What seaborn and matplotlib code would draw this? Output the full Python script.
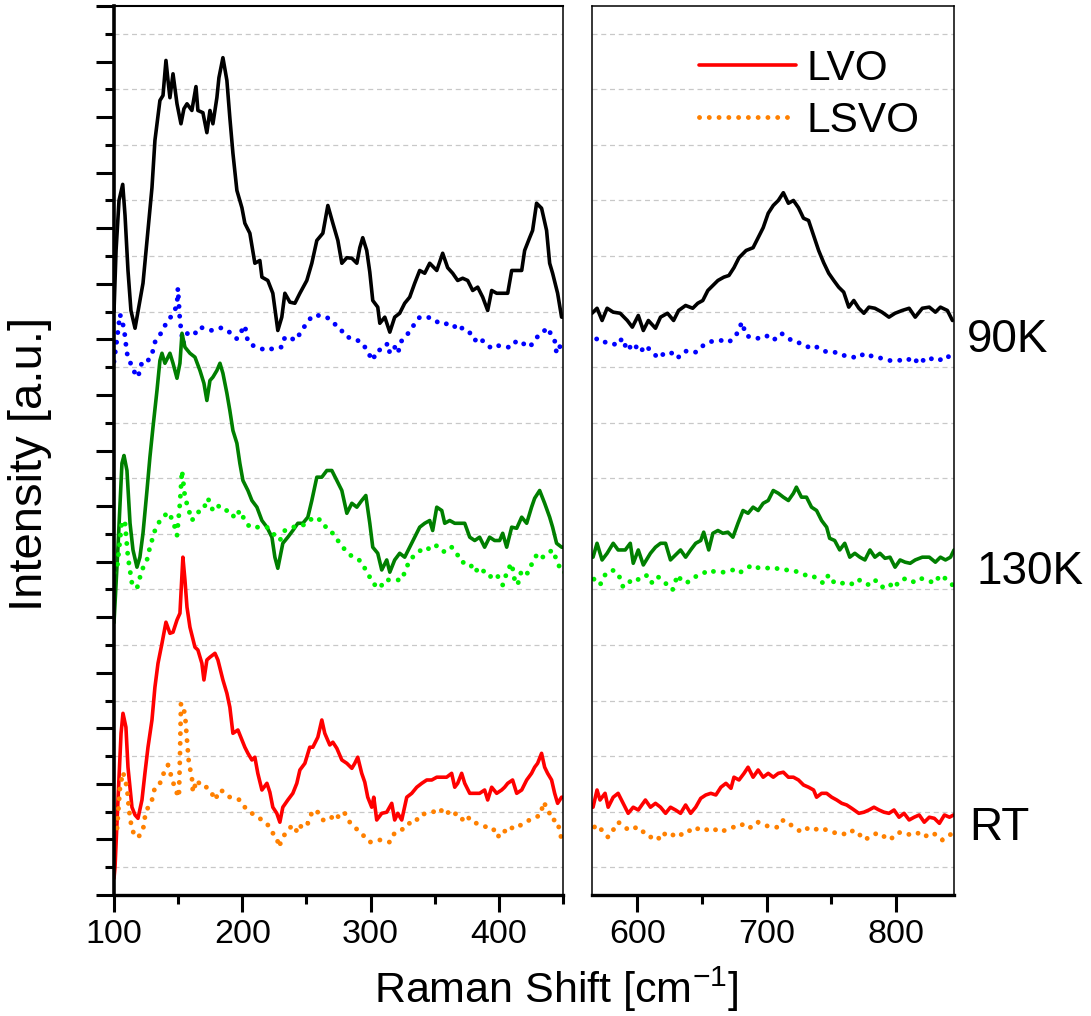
import matplotlib
matplotlib.use("Agg")
import matplotlib.pyplot as plt
from matplotlib.lines import Line2D
from matplotlib.ticker import FixedLocator
import seaborn as sns

# ---------------- DATA (Raman shift in cm-1, intensity in a.u. incl. offset) ----------------
# 90K, LVO (solid black)
lvo_90k_left_x = [100, 101.6, 103.9, 106.8, 108.6, 110.9, 113.2, 116.4, 119.5, 122.6,
                  126.5, 129.6, 131.9, 135.8, 138.2, 140.5, 142.1, 143.6, 146.0, 149.1,
                  152.2, 154.5, 156.9, 160.7, 163.9, 165.4, 169.3, 172.4, 174.8, 177.1,
                  180.2, 181.8, 184.9, 188.0, 190.3, 192.7, 195.8, 199.7, 202.0, 205.9,
                  209.8, 213.7, 215.3, 219.9, 223.8, 227.7, 230.8, 233.2, 237.1, 241.0,
                  244.9, 250.3, 254.2, 258.1, 262.8, 266.7, 270.6, 274.5, 277.6, 281.5,
                  285.4, 289.3, 291.6, 293.9, 297.0, 299.4, 301.7, 305.6, 307.2, 311.1,
                  315.0, 318.8, 322.7, 326.6, 330.5, 334.4, 338.3, 342.2, 346.1, 351.6,
                  356.2, 360.1, 364.0, 367.9, 371.8, 375.7, 379.6, 383.5, 387.4, 391.3,
                  394.4, 398.3, 403.0, 406.9, 410.0, 413.9, 417.8, 420.1, 424.0, 426.3,
                  429.4, 433.3, 437.2, 439.6, 441.9, 445.8, 448.9]
lvo_90k_left_y = [10.5, 11.6, 12.5, 12.79, 12.23, 11.24, 10.52, 10.20, 10.61, 11.01,
                  11.96, 12.73, 13.58, 14.30, 14.39, 15.02, 14.66, 14.35, 14.78, 14.24,
                  13.88, 14.15, 14.24, 14.12, 14.55, 14.12, 14.08, 13.72, 14.12, 13.88,
                  14.35, 14.71, 15.07, 14.66, 13.99, 13.35, 12.68, 12.37, 12.09, 11.91,
                  11.37, 11.42, 11.12, 11.06, 10.83, 10.16, 10.40, 10.83, 10.67, 10.65,
                  10.83, 11.06, 11.37, 11.78, 11.91, 12.41, 12.09, 11.78, 11.37, 11.47,
                  11.46, 11.37, 11.65, 11.83, 11.60, 11.21, 10.70, 10.58, 10.29, 10.40,
                  10.13, 10.40, 10.47, 10.65, 10.76, 11.01, 11.24, 11.19, 11.37, 11.24,
                  11.55, 11.29, 11.19, 11.06, 11.10, 11.06, 10.88, 10.94, 10.76, 10.52,
                  10.88, 10.83, 10.83, 10.83, 11.24, 11.24, 11.24, 11.60, 11.83, 11.96,
                  12.45, 12.36, 11.96, 11.37, 11.19, 10.83, 10.40]
lvo_90k_right_x = [565.0, 568.9, 572.8, 576.7, 581.4, 586.8, 592.3, 596.2, 600.8, 604.7,
                   608.6, 614.1, 618.0, 623.4, 628.1, 632.0, 637.4, 642.9, 646.8, 650.7,
                   654.6, 658.5, 662.4, 667.0, 670.9, 674.8, 678.7, 684.2, 689.6, 693.5,
                   697.4, 701.3, 705.2, 709.1, 713.0, 716.9, 720.8, 724.7, 728.6, 732.5,
                   736.4, 740.3, 744.2, 748.1, 752.0, 755.8, 759.7, 763.6, 767.5, 771.4,
                   775.3, 779.2, 783.8, 789.3, 794.7, 799.4, 804.9, 810.3, 815.0, 820.5,
                   825.9, 830.6, 834.5, 839.9, 843.8]
lvo_90k_right_y = [10.47, 10.56, 10.34, 10.56, 10.49, 10.47, 10.34, 10.22, 10.43, 10.16,
                   10.34, 10.20, 10.40, 10.47, 10.34, 10.52, 10.61, 10.56, 10.65, 10.70,
                   10.88, 10.97, 11.06, 11.12, 11.15, 11.29, 11.47, 11.60, 11.65, 11.83,
                   12.01, 12.27, 12.41, 12.50, 12.64, 12.45, 12.50, 12.37, 12.18, 12.14,
                   11.87, 11.60, 11.38, 11.19, 11.06, 10.94, 10.85, 10.58, 10.70, 10.56,
                   10.47, 10.58, 10.56, 10.49, 10.40, 10.47, 10.52, 10.56, 10.40, 10.56,
                   10.58, 10.49, 10.58, 10.52, 10.34]

# 90K, LSVO (dotted blue)
lsvo_90k_left_x = [100, 102.3, 104.7, 107.8, 110.1, 114.8, 118.7, 121.8, 125.7, 129.6,
                   131.9, 133.5, 137.4, 141.3, 145.2, 149.1, 149.8, 151.4, 153.7, 156.9,
                   160.7, 164.6, 168.5, 172.4, 176.3, 180.2, 184.1, 188.0, 191.9, 195.8,
                   199.7, 202.0, 204.4, 208.3, 213.7, 219.2, 226.9, 230.8, 233.2, 237.1,
                   241.0, 244.9, 250.3, 255.0, 260.4, 265.9, 270.6, 276.0, 279.9, 286.1,
                   290.0, 293.9, 297.8, 301.7, 304.8, 309.5, 313.4, 315.0, 318.8, 321.2,
                   324.3, 329.0, 334.4, 338.3, 343.8, 348.4, 353.9, 359.3, 364.0, 367.9,
                   371.8, 377.3, 381.2, 385.0, 388.9, 394.4, 399.1, 404.5, 410.0, 413.9,
                   418.5, 424.0, 427.9, 431.8, 435.7, 438.0, 441.1, 443.5, 445.0, 448.9]
lsvo_90k_left_y = [9.6, 10.0, 10.45, 10.2, 9.75, 9.45, 9.32, 9.59, 9.59, 9.73,
                   9.95, 10.0, 10.14, 10.32, 10.43, 10.61, 10.92, 10.34, 9.92, 10.10,
                   10.16, 10.10, 10.21, 10.19, 10.16, 10.19, 10.21, 10.16, 10.10, 10.01,
                   10.16, 10.25, 9.95, 9.89, 9.84, 9.80, 9.86, 9.86, 10.04, 10.04,
                   9.98, 10.10, 10.30, 10.43, 10.43, 10.40, 10.30, 10.21, 10.07, 10.0,
                   9.98, 9.93, 9.77, 9.62, 9.80, 9.82, 9.93, 9.75, 9.86, 9.75,
                   9.98, 10.10, 10.28, 10.40, 10.40, 10.38, 10.28, 10.28, 10.28, 10.16,
                   10.21, 10.12, 9.98, 10.04, 9.93, 9.84, 9.89, 9.86, 9.86, 9.98,
                   9.93, 9.86, 9.98, 10.10, 10.16, 10.21, 10.07, 9.98, 9.75, 9.93]
lsvo_90k_right_x = [565.8, 571.2, 579.0, 584.5, 588.4, 592.3, 596.9, 602.4, 606.3, 611.7,
                    616.4, 621.9, 627.3, 631.2, 635.1, 639.8, 645.2, 649.1, 655.3, 660.8,
                    666.2, 670.9, 676.4, 681.0, 684.2, 689.6, 694.3, 699.7, 705.2, 711.4,
                    716.9, 721.5, 727.0, 732.5, 737.1, 742.6, 748.0, 752.7, 758.2, 763.6,
                    769.8, 776.1, 783.1, 789.3, 795.5, 802.5, 808.8, 814.2, 818.1, 822.8,
                    828.2, 833.7, 838.4, 843.8]
lsvo_90k_right_y = [10.07, 9.95, 9.95, 9.89, 10.02, 9.80, 9.93, 9.77, 9.89, 9.77,
                    9.66, 9.77, 9.75, 9.66, 9.77, 9.80, 9.77, 9.86, 9.95, 9.98,
                    9.98, 9.95, 10.07, 10.31, 10.07, 10.02, 10.02, 10.07, 9.98, 10.11,
                    10.02, 9.95, 9.93, 9.86, 9.89, 9.80, 9.77, 9.77, 9.71, 9.71,
                    9.66, 9.75, 9.68, 9.66, 9.62, 9.62, 9.66, 9.57, 9.68, 9.59,
                    9.66, 9.62, 9.71, 9.66]

# 130K, LVO (solid green)
lvo_130k_left_x = [100, 103.1, 106.2, 107.8, 110.1, 112.5, 114.8, 117.9, 120.2, 122.6,
                   125.7, 128.0, 130.4, 133.5, 135.8, 137.4, 139.7, 143.6, 146.0, 149.1,
                   151.4, 153.0, 155.3, 159.2, 163.1, 167.0, 170.1, 172.4, 174.8, 177.1,
                   180.2, 182.6, 184.9, 188.0, 190.3, 192.7, 195.8, 198.1, 200.5, 204.4,
                   207.5, 211.4, 215.3, 219.2, 223.1, 225.4, 227.7, 231.6, 235.5, 239.4,
                   243.3, 247.2, 251.1, 254.2, 258.1, 262.0, 265.9, 269.8, 273.7, 277.6,
                   281.5, 285.4, 289.3, 293.1, 296.3, 299.4, 301.7, 305.6, 308.7, 312.6,
                   315.0, 318.8, 322.7, 326.6, 330.5, 334.4, 338.3, 342.2, 346.1, 348.4,
                   351.6, 355.5, 357.8, 361.7, 365.6, 369.5, 373.4, 377.3, 381.2, 385.0,
                   388.9, 392.8, 396.7, 400.6, 403.0, 406.1, 410.0, 413.9, 417.8, 421.7,
                   425.5, 427.9, 431.8, 435.7, 439.6, 441.9, 445.0, 448.9]
lvo_130k_left_y = [4.9, 6.26, 7.77, 7.91, 7.64, 6.69, 6.21, 5.90, 6.08, 6.51,
                   7.28, 7.88, 8.42, 9.08, 9.62, 9.75, 9.57, 9.75, 9.57, 9.30,
                   9.57, 10.11, 9.86, 9.75, 9.68, 9.44, 9.21, 8.90, 9.26, 9.32,
                   9.44, 9.57, 9.39, 9.03, 8.72, 8.36, 8.13, 7.77, 7.46, 7.28,
                   7.10, 6.98, 6.74, 6.62, 6.44, 6.08, 5.88, 6.33, 6.44, 6.56,
                   6.69, 6.69, 6.80, 7.10, 7.52, 7.52, 7.64, 7.64, 7.46, 7.28,
                   6.87, 7.05, 6.98, 7.10, 7.19, 6.69, 6.26, 6.15, 5.85, 6.03,
                   5.81, 6.03, 6.15, 6.08, 6.26, 6.44, 6.62, 6.69, 6.74, 6.56,
                   6.98, 6.92, 6.69, 6.74, 6.69, 6.69, 6.69, 6.44, 6.38, 6.44,
                   6.26, 6.44, 6.38, 6.38, 6.51, 6.26, 6.62, 6.60, 6.80, 6.69,
                   6.98, 7.14, 7.28, 7.05, 6.80, 6.62, 6.33, 6.26]
lvo_130k_right_x = [565.8, 568.9, 572.8, 576.7, 581.4, 585.2, 590.7, 594.6, 596.9, 600.8,
                    604.7, 610.2, 614.1, 618.0, 621.9, 625.7, 629.6, 633.5, 637.4, 641.3,
                    645.2, 649.1, 651.4, 655.3, 658.5, 662.4, 666.2, 670.1, 674.0, 677.9,
                    681.8, 685.7, 689.6, 693.5, 697.4, 701.3, 705.2, 709.1, 713.0, 716.9,
                    720.8, 723.1, 727.0, 730.9, 734.8, 738.7, 742.6, 746.5, 748.8, 752.7,
                    756.6, 760.5, 764.4, 768.3, 772.2, 776.1, 780.0, 783.8, 787.7, 791.6,
                    795.5, 799.4, 803.3, 807.2, 811.1, 815.0, 820.5, 825.9, 830.6, 834.5,
                    838.4, 842.3, 845.0]
lvo_130k_right_y = [6.08, 6.33, 6.03, 6.15, 6.33, 6.21, 6.21, 6.33, 5.97, 6.21,
                    5.94, 6.15, 6.26, 6.33, 6.33, 6.03, 6.12, 6.21, 6.08, 6.21,
                    6.33, 6.38, 6.53, 6.21, 6.51, 6.56, 6.51, 6.53, 6.44, 6.69,
                    6.92, 6.87, 6.98, 6.92, 7.05, 7.10, 7.28, 7.23, 7.16, 7.10,
                    7.23, 7.34, 7.16, 7.16, 6.98, 6.92, 6.74, 6.62, 6.42, 6.38,
                    6.21, 6.33, 6.08, 6.15, 6.08, 6.03, 6.21, 6.08, 6.15, 6.06,
                    6.08, 5.90, 6.03, 5.99, 5.97, 6.03, 6.08, 6.08, 5.99, 6.08,
                    6.03, 6.08, 6.21]

# 130K, LSVO (dotted light green)
lsvo_130k_left_x = [100, 102.3, 106.2, 108.6, 110.9, 114.0, 117.9, 121.8, 125.7, 128.0,
                    131.9, 135.8, 142.1, 146.0, 149.1, 151.4, 153.0, 155.3, 157.6, 160.7,
                    165.4, 169.3, 173.2, 177.1, 181.0, 184.9, 190.3, 194.2, 198.1, 202.0,
                    205.9, 209.8, 215.3, 219.2, 223.8, 229.3, 233.2, 239.4, 246.4, 251.1,
                    255.0, 262.0, 266.7, 270.6, 274.5, 278.3, 283.8, 289.3, 293.1, 295.5,
                    299.4, 301.7, 307.2, 311.1, 316.5, 321.2, 324.3, 326.6, 330.5, 336.0,
                    342.2, 347.7, 351.6, 357.8, 363.2, 367.1, 371.0, 377.3, 381.2, 385.0,
                    388.9, 392.8, 396.7, 400.6, 403.0, 406.9, 410.0, 412.3, 414.6, 417.8,
                    422.4, 426.3, 430.2, 434.1, 438.0, 441.9, 445.0, 448.9]
lsvo_130k_left_y = [5.8, 5.85, 6.74, 6.69, 6.08, 5.61, 5.52, 5.85, 6.03, 6.26,
                    6.56, 6.74, 6.89, 6.74, 6.47, 7.05, 7.64, 7.16, 6.98, 6.74,
                    6.89, 6.92, 7.14, 6.92, 7.01, 6.92, 6.92, 6.78, 6.92, 6.74,
                    6.62, 6.62, 6.62, 6.62, 6.51, 6.38, 6.56, 6.62, 6.65, 6.69,
                    6.80, 6.74, 6.56, 6.51, 6.38, 6.26, 6.12, 6.06, 5.99, 5.88,
                    5.72, 5.61, 5.52, 5.67, 5.67, 5.67, 5.67, 5.81, 6.03, 6.15,
                    6.26, 6.21, 6.29, 6.17, 6.26, 6.15, 5.99, 5.97, 5.81, 5.90,
                    5.81, 5.72, 5.79, 5.70, 5.58, 5.85, 5.97, 5.67, 5.58, 5.85,
                    5.79, 5.99, 6.15, 6.08, 6.15, 6.21, 6.03, 5.81]
lsvo_130k_right_x = [565.8, 571.2, 575.1, 580.6, 585.2, 589.1, 593.0, 596.9, 602.4, 607.8,
                     611.7, 616.4, 621.9, 627.3, 631.2, 635.1, 639.0, 643.7, 649.1, 655.3,
                     660.8, 667.0, 674.0, 678.7, 684.2, 689.6, 694.3, 699.7, 705.2, 711.4,
                     719.2, 724.7, 729.3, 734.8, 740.2, 744.1, 748.0, 752.7, 758.2, 763.6,
                     767.5, 772.2, 779.2, 783.8, 789.3, 794.7, 798.6, 803.3, 808.8, 814.2,
                     818.9, 824.3, 829.8, 834.5, 839.9, 843.8]
lsvo_130k_right_y = [5.70, 5.58, 5.76, 5.85, 5.79, 5.54, 5.61, 5.70, 5.67, 5.76,
                     5.61, 5.72, 5.61, 5.49, 5.76, 5.63, 5.63, 5.72, 5.76, 5.85,
                     5.81, 5.81, 5.85, 5.79, 5.88, 5.94, 5.88, 5.88, 5.90, 5.85,
                     5.85, 5.81, 5.76, 5.76, 5.67, 5.61, 5.76, 5.61, 5.61, 5.63,
                     5.58, 5.67, 5.58, 5.67, 5.54, 5.61, 5.52, 5.67, 5.70, 5.63,
                     5.70, 5.67, 5.61, 5.76, 5.67, 5.58]

# RT, LVO (solid red)
lvo_rt_left_x = [100, 100.8, 103.1, 105.5, 107.0, 109.3, 110.9, 114.0, 116.4, 118.7,
                 121.8, 124.1, 126.5, 129.6, 131.9, 134.3, 137.4, 140.5, 143.6, 146.0,
                 149.1, 151.4, 153.7, 155.3, 156.9, 159.2, 163.1, 165.4, 168.5, 170.1,
                 172.4, 174.8, 178.7, 181.0, 184.9, 188.0, 190.3, 192.7, 196.6, 199.7,
                 202.0, 204.4, 207.5, 209.8, 212.1, 215.3, 219.2, 221.5, 223.8, 226.9,
                 229.3, 231.6, 235.5, 239.4, 242.5, 244.9, 248.8, 252.6, 255.0, 258.9,
                 262.0, 264.3, 268.2, 270.6, 273.7, 277.6, 281.5, 285.4, 287.7, 290.0,
                 293.1, 295.5, 297.8, 300.9, 302.5, 304.8, 308.7, 312.6, 316.5, 318.8,
                 321.2, 324.3, 328.2, 332.1, 336.0, 339.9, 343.8, 347.7, 351.6, 355.5,
                 359.3, 363.2, 365.6, 367.9, 371.0, 373.4, 377.3, 381.2, 385.0, 388.9,
                 391.3, 394.4, 398.3, 402.2, 404.5, 406.9, 410.7, 413.9, 417.8, 421.7,
                 425.5, 427.9, 430.2, 433.3, 435.7, 438.0, 441.1, 443.5, 445.8, 448.9]
lvo_rt_left_y = [0.3, 0.50, 1.71, 2.91, 3.27, 3.02, 2.30, 1.58, 1.44, 1.38,
                 1.71, 2.19, 2.66, 3.15, 3.74, 4.17, 4.53, 4.91, 4.71, 4.73,
                 4.95, 5.07, 6.08, 5.67, 5.18, 4.82, 4.46, 4.41, 4.17, 3.87,
                 4.23, 4.28, 4.35, 4.23, 3.87, 3.63, 3.38, 2.91, 2.97, 2.79,
                 2.66, 2.55, 2.43, 2.48, 2.19, 1.89, 2.01, 1.85, 1.58, 1.47,
                 1.31, 1.58, 1.71, 1.83, 2.01, 2.25, 2.37, 2.66, 2.66, 2.84,
                 3.15, 2.91, 2.70, 2.75, 2.64, 2.43, 2.37, 2.28, 2.37, 2.48,
                 2.19, 2.03, 1.76, 1.58, 1.76, 1.35, 1.47, 1.49, 1.65, 1.35,
                 1.47, 1.35, 1.76, 1.83, 1.94, 2.01, 2.07, 2.07, 2.12, 2.12,
                 2.12, 2.19, 1.94, 2.01, 2.19, 2.01, 1.83, 1.83, 1.83, 1.89,
                 1.71, 1.94, 1.83, 1.89, 1.94, 2.01, 2.07, 1.83, 1.89, 2.07,
                 2.19, 2.30, 2.37, 2.55, 2.30, 2.19, 2.07, 1.83, 1.65, 1.76]
lvo_rt_right_x = [565.8, 568.9, 571.2, 575.1, 577.5, 581.4, 585.2, 589.1, 593.0, 596.9,
                  600.8, 606.3, 610.2, 614.1, 618.0, 621.9, 625.7, 629.6, 633.5, 637.4,
                  641.3, 645.2, 649.1, 653.0, 656.9, 660.8, 664.7, 668.6, 672.5, 674.8,
                  678.7, 682.6, 685.7, 689.6, 693.5, 697.4, 701.3, 705.2, 709.1, 713.0,
                  716.9, 720.8, 724.7, 728.6, 732.5, 736.4, 738.7, 742.6, 746.5, 750.4,
                  754.3, 758.2, 762.0, 765.9, 771.4, 775.3, 779.2, 783.1, 787.0, 790.9,
                  794.7, 798.6, 802.5, 806.4, 810.3, 814.2, 818.1, 822.0, 825.9, 829.8,
                  833.7, 837.6, 841.5, 844.6]
lvo_rt_right_y = [1.58, 1.89, 1.71, 1.83, 1.58, 1.76, 1.83, 1.65, 1.47, 1.58,
                  1.53, 1.71, 1.58, 1.65, 1.58, 1.47, 1.58, 1.53, 1.47, 1.62,
                  1.47, 1.58, 1.74, 1.80, 1.83, 1.80, 1.94, 2.01, 1.92, 2.12,
                  2.07, 2.19, 2.30, 2.12, 2.25, 2.12, 2.19, 2.12, 2.19, 2.21,
                  2.12, 2.12, 2.07, 1.98, 1.94, 1.89, 1.76, 1.83, 1.83, 1.76,
                  1.71, 1.65, 1.62, 1.56, 1.47, 1.49, 1.53, 1.58, 1.53, 1.49,
                  1.47, 1.53, 1.40, 1.47, 1.35, 1.40, 1.44, 1.31, 1.40, 1.38,
                  1.29, 1.44, 1.40, 1.44]

# RT, LSVO (dotted orange)
lsvo_rt_left_x = [100, 102.3, 104.7, 107.0, 110.1, 111.7, 114.0, 116.4, 118.7, 122.6,
                  124.1, 126.5, 129.6, 131.9, 135.8, 139.7, 142.1, 146.0, 149.1, 150.6,
                  151.4, 152.2, 155.3, 156.9, 158.4, 160.7, 161.5, 164.6, 168.5, 172.4,
                  176.3, 178.7, 182.6, 186.4, 190.3, 194.2, 198.1, 202.0, 205.9, 209.8,
                  215.3, 219.2, 223.1, 226.9, 228.5, 231.6, 235.5, 239.4, 243.3, 247.2,
                  251.1, 255.0, 258.9, 262.8, 268.2, 272.1, 276.0, 279.9, 283.8, 287.7,
                  291.6, 295.5, 299.4, 304.8, 309.5, 315.0, 318.8, 324.3, 329.0, 334.4,
                  338.3, 343.8, 348.4, 353.9, 357.8, 363.2, 367.1, 371.0, 374.8, 378.8,
                  382.7, 386.6, 390.5, 395.2, 399.1, 403.0, 406.9, 410.7, 414.6, 418.5,
                  424.0, 429.4, 433.3, 434.1, 438.0, 441.1, 445.0, 447.4, 448.9]
lsvo_rt_left_y = [1.3, 1.17, 1.94, 2.21, 1.94, 1.53, 1.17, 1.08, 1.03, 1.17,
                  1.40, 1.58, 1.71, 1.94, 2.01, 2.25, 2.34, 2.03, 1.83, 1.76,
                  2.48, 3.45, 3.27, 2.79, 2.37, 2.12, 1.85, 2.07, 1.94, 1.94,
                  1.83, 1.71, 1.89, 1.85, 1.76, 1.74, 1.71, 1.58, 1.49, 1.44,
                  1.35, 1.29, 1.13, 1.04, 0.86, 1.04, 1.17, 1.26, 1.12, 1.31,
                  1.29, 1.53, 1.49, 1.35, 1.35, 1.47, 1.38, 1.47, 1.31, 1.21,
                  1.15, 1.04, 0.95, 0.99, 0.99, 0.95, 1.12, 1.17, 1.29, 1.29,
                  1.44, 1.47, 1.49, 1.56, 1.44, 1.53, 1.44, 1.35, 1.44, 1.31,
                  1.29, 1.26, 1.22, 1.21, 1.04, 1.17, 1.12, 1.22, 1.21, 1.29,
                  1.35, 1.40, 1.47, 1.67, 1.58, 1.35, 1.35, 1.17, 0.99]
lsvo_rt_right_x = [565.8, 569.7, 573.6, 577.5, 581.4, 585.2, 589.1, 593.0, 596.9, 602.4,
                   606.3, 610.2, 614.1, 618.0, 621.9, 625.7, 629.6, 633.5, 639.0, 643.7,
                   647.6, 653.0, 658.5, 663.1, 668.6, 674.0, 678.7, 682.6, 688.1, 693.5,
                   698.2, 703.6, 709.1, 713.0, 716.9, 721.5, 727.0, 732.5, 737.1, 741.0,
                   746.5, 751.9, 756.6, 762.0, 767.5, 772.2, 776.1, 781.5, 787.0, 791.6,
                   795.5, 801.0, 806.4, 811.1, 816.6, 822.0, 826.7, 832.1, 836.0, 839.9,
                   843.8]
lsvo_rt_right_y = [1.21, 1.26, 1.13, 1.04, 1.17, 1.31, 1.26, 1.17, 1.21, 1.21,
                   1.08, 1.04, 1.08, 0.99, 1.12, 1.12, 1.04, 1.08, 1.17, 1.13,
                   1.21, 1.17, 1.21, 1.13, 1.17, 1.22, 1.22, 1.29, 1.21, 1.31,
                   1.26, 1.22, 1.22, 1.35, 1.29, 1.22, 1.13, 1.21, 1.17, 1.21,
                   1.17, 1.12, 1.13, 1.08, 1.17, 1.08, 0.99, 1.08, 1.12, 1.04,
                   0.99, 1.12, 1.13, 1.08, 1.12, 1.04, 1.12, 1.08, 0.99, 1.04,
                   1.12]

temp_labels = ["90K", "130K", "RT"]
sample_labels = ["LVO", "LSVO"]

# -------- STYLE --------
sns.set_style("white")
plt.rcParams["font.family"] = ["Liberation Sans", "DejaVu Sans"]
plt.rcParams["text.color"] = "black"
plt.rcParams["xtick.color"] = "black"
plt.rcParams["ytick.color"] = "black"
plt.rcParams["mathtext.fontset"] = "custom"
plt.rcParams["mathtext.rm"] = "Liberation Sans"
plt.rcParams["mathtext.it"] = "Liberation Sans:italic"

DOTS = (0, (0.01, 2.0))
SOLID_LW = 2.6
DOT_LW = 3.5

curves = [
    (lvo_90k_left_x + lvo_90k_right_x, lvo_90k_left_y + lvo_90k_right_y, "#000000", "-", SOLID_LW),
    (lsvo_90k_left_x + lsvo_90k_right_x, lsvo_90k_left_y + lsvo_90k_right_y, "#0000FF", DOTS, DOT_LW),
    (lvo_130k_left_x + lvo_130k_right_x, lvo_130k_left_y + lvo_130k_right_y, "#007F00", "-", SOLID_LW),
    (lsvo_130k_left_x + lsvo_130k_right_x, lsvo_130k_left_y + lsvo_130k_right_y, "#00F000", DOTS, DOT_LW),
    (lvo_rt_left_x + lvo_rt_right_x, lvo_rt_left_y + lvo_rt_right_y, "#FF0000", "-", SOLID_LW),
    (lsvo_rt_left_x + lsvo_rt_right_x, lsvo_rt_left_y + lsvo_rt_right_y, "#FF8000", DOTS, DOT_LW),
]

W, H = 1091, 1016
fig = plt.figure(figsize=(W / 100, H / 100), dpi=100)
ax_l = fig.add_axes([114 / W, 121 / H, 449 / W, 889 / H])
ax_r = fig.add_axes([592 / W, 121 / H, 362 / W, 889 / H])

# -------- CURVES --------
for ax in (ax_l, ax_r):
    for xs, ys, col, ls, lw in curves:
        sns.lineplot(x=xs, y=ys, ax=ax, sort=False, estimator=None, color=col,
                     linestyle=ls, lw=lw, dash_capstyle="round", solid_joinstyle="round")

ax_l.set_xlim(100, 450)
ax_r.set_xlim(565, 845)

# -------- AXES --------
for ax in (ax_l, ax_r):
    ax.set_ylim(0, 16)
    ax.yaxis.set_major_locator(FixedLocator(list(range(17))))
    ax.yaxis.set_minor_locator(FixedLocator([i + 0.5 for i in range(16)]))
    ax.grid(False, which="major")
    ax.grid(True, which="minor", axis="y", color="#c8c8c8",
            linestyle=(0, (4, 3)), linewidth=0.9)
    ax.set_axisbelow(True)
    ax.set_xlabel("")
    ax.set_ylabel("")
    for sp in ax.spines.values():
        sp.set_color("black")
        sp.set_linewidth(1.1)
    ax.spines["bottom"].set_linewidth(2.4)
    ax.tick_params(axis="x", which="major", direction="out", length=12.5, width=2.2,
                   color="black", labelcolor="black", labelsize=24.5, pad=5, bottom=True)
    ax.tick_params(axis="x", which="minor", direction="out", length=6.5, width=2.2,
                   color="black", bottom=True)

ax_l.spines["left"].set_linewidth(2.6)
ax_l.spines["top"].set_linewidth(1.5)
ax_l.set_xticks([100, 200, 300, 400])
ax_l.set_xticks([150, 250, 350, 450], minor=True)
ax_l.tick_params(axis="y", which="major", direction="out", length=13, width=2.2,
                 color="black", left=True, labelleft=False)
ax_l.tick_params(axis="y", which="minor", direction="out", length=6.5, width=2.2,
                 color="black", left=True, labelleft=False)

ax_r.set_xticks([600, 700, 800])
ax_r.set_xticks([650, 750], minor=True)
ax_r.tick_params(axis="y", which="both", left=False, labelleft=False)

# -------- LEGEND --------
handles = [Line2D([], [], color="#FF0000", lw=SOLID_LW),
           Line2D([], [], color="#FF8000", lw=DOT_LW, linestyle=DOTS, dash_capstyle="round")]
ax_r.legend(handles, sample_labels, loc="upper right", bbox_to_anchor=(0.905, 0.952),
            frameon=False, fontsize=30.5, handlelength=2.3, handletextpad=0.25,
            labelspacing=0.28, borderpad=0, borderaxespad=0)

# -------- TEXT --------
fig.text(556 / W, 13 / H, r"Raman Shift [cm$^{-1}$]", fontsize=31,
         ha="center", va="baseline")
fig.text(30 / W, 1 - 464 / H, "Intensity [a.u.]", fontsize=34,
         rotation=90, ha="center", va="center")
for label, ypix, xpix in zip(temp_labels, [340, 572, 828], [967, 976, 969]):
    fig.text(xpix / W, 1 - ypix / H, label, fontsize=33, ha="left", va="center")

fig.savefig("out.png", dpi=100)
